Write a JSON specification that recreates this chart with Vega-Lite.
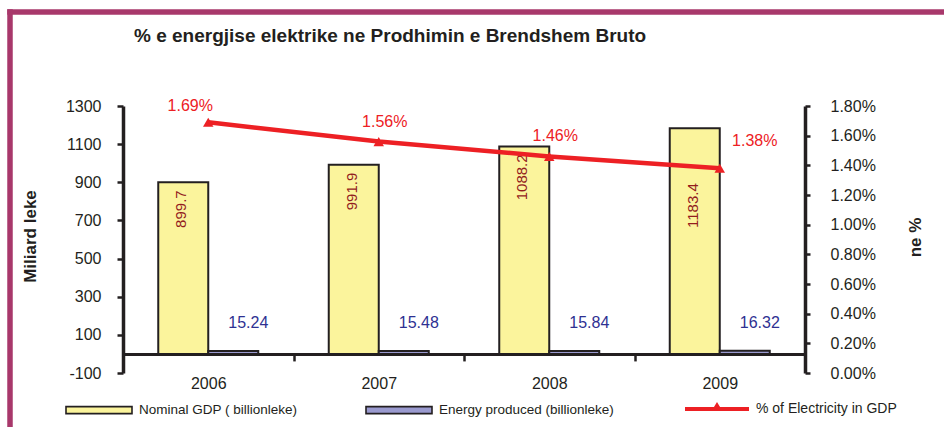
{
  "$schema": "https://vega.github.io/schema/vega-lite/v6.json",
  "width": 682,
  "height": 267,
  "autosize": "none",
  "padding": {"left": 123, "top": 106, "right": 139, "bottom": 54},
  "background": "white",
  "config": {
    "font": "Liberation Sans",
    "view": {"stroke": null},
    "axis": {"labelFont": "Liberation Sans", "titleFont": "Liberation Sans", "grid": false}
  },
  "title": {
    "text": "% e energjise elektrike  ne Prodhimin e Brendshem Bruto",
    "fontSize": 19,
    "fontWeight": "bold",
    "color": "#231F20",
    "anchor": "start",
    "frame": "group",
    "dx": 11,
    "offset": -38
  },
  "datasets": {
    "d": [
      {"year": "2006", "series": "Nominal  GDP ( billionleke)", "value": 899.7},
      {"year": "2007", "series": "Nominal  GDP ( billionleke)", "value": 991.9},
      {"year": "2008", "series": "Nominal  GDP ( billionleke)", "value": 1088.2},
      {"year": "2009", "series": "Nominal  GDP ( billionleke)", "value": 1183.4},
      {"year": "2006", "series": "Energy produced  (billionleke)", "value": 15.24},
      {"year": "2007", "series": "Energy produced  (billionleke)", "value": 15.48},
      {"year": "2008", "series": "Energy produced  (billionleke)", "value": 15.84},
      {"year": "2009", "series": "Energy produced  (billionleke)", "value": 16.32},
      {"year": "2006", "series": "% of Electricity in GDP", "value": 0.0169},
      {"year": "2007", "series": "% of Electricity in GDP", "value": 0.0156},
      {"year": "2008", "series": "% of Electricity in GDP", "value": 0.0146},
      {"year": "2009", "series": "% of Electricity in GDP", "value": 0.0138}
    ]
  },
  "data": {"name": "d"},
  "layer": [
    {
      "encoding": {
        "x": {
          "field": "year",
          "type": "ordinal",
          "scale": {"paddingInner": 0, "paddingOuter": 0},
          "axis": {
            "title": null,
            "labelAngle": 0,
            "labelFontSize": 16,
            "labelColor": "#231F20",
            "domainColor": "#231F20",
            "domainWidth": 3,
            "tickColor": "#231F20",
            "tickWidth": 2.5,
            "tickSize": 7,
            "tickBand": "extent",
            "labelPadding": 15,
            "offset": -19.07
          }
        }
      },
      "layer": [
        {
          "transform": [{"filter": "datum.series !== '% of Electricity in GDP'"}],
          "encoding": {
            "y": {
              "field": "value",
              "type": "quantitative",
              "scale": {"domain": [-100, 1300], "nice": false, "zero": false},
              "axis": {
                "title": "Miliard leke",
                "values": [-100, 100, 300, 500, 700, 900, 1100, 1300],
                "labelExpr": "'' + datum.value",
                "labelFontSize": 16,
                "labelColor": "#231F20",
                "domainColor": "#231F20",
                "domainWidth": 3.5,
                "tickColor": "#231F20",
                "tickWidth": 2.5,
                "tickSize": 6,
                "labelPadding": 16,
                "titleFontSize": 17,
                "titleFontWeight": "bold",
                "titleColor": "#231F20",
                "titleAngle": 270,
                "titleX": -93,
                "titleY": 130,
                "titleAlign": "center",
                "titleBaseline": "middle"
              }
            },
            "xOffset": {
              "field": "series",
              "type": "nominal",
              "scale": {"domain": ["Nominal  GDP ( billionleke)", "Energy produced  (billionleke)"], "paddingOuter": 0.705, "paddingInner": 0}
            }
          },
          "layer": [
            {
              "mark": {"type": "bar", "stroke": "#231F20", "strokeWidth": 2},
              "encoding": {
                "color": {
                  "field": "series",
                  "type": "nominal",
                  "scale": {
                    "domain": ["Nominal  GDP ( billionleke)", "Energy produced  (billionleke)"],
                    "range": ["#FBF49C", "#9A9ACF"]
                  },
                  "legend": {
                    "orient": "none",
                    "legendX": -58,
                    "legendY": 270,
                    "direction": "horizontal",
                    "title": null,
                    "symbolType": "M-1,-0.106H1V0.106H-1Z",
                    "symbolSize": 4356,
                    "symbolStrokeColor": "#231F20",
                    "symbolStrokeWidth": 1.6,
                    "symbolOpacity": 1,
                    "labelFontSize": 13.5,
                    "labelColor": "#231F20",
                    "labelFont": "Liberation Sans",
                    "labelOffset": 6,
                    "columnPadding": 60,
                    "labelLimit": 400
                  }
                }
              }
            },
            {
              "transform": [{"filter": "datum.series === 'Nominal  GDP ( billionleke)' && datum.year !== '2009'"}],
              "mark": {"type": "text", "angle": 270, "align": "right", "baseline": "middle", "dx": -8, "dy": -2, "fontSize": 15, "color": "#931C1E"},
              "encoding": {"text": {"field": "value", "type": "quantitative", "format": ".1f"}}
            },
            {
              "transform": [{"filter": "datum.series === 'Nominal  GDP ( billionleke)' && datum.year === '2009'"}],
              "mark": {"type": "text", "angle": 270, "align": "right", "baseline": "middle", "dx": -55, "dy": -2, "fontSize": 15, "color": "#931C1E"},
              "encoding": {"text": {"field": "value", "type": "quantitative", "format": ".1f"}}
            },
            {
              "transform": [{"filter": "datum.series === 'Energy produced  (billionleke)'"}],
              "mark": {"type": "text", "align": "center", "baseline": "middle", "dx": 15, "dy": -28, "fontSize": 16, "color": "#2E3192"},
              "encoding": {"text": {"field": "value", "type": "quantitative", "format": ".2f"}}
            }
          ]
        },
        {
          "transform": [{"filter": "datum.series === '% of Electricity in GDP'"}],
          "encoding": {
            "y": {
              "field": "value",
              "type": "quantitative",
              "scale": {"domain": [0, 0.018], "nice": false},
              "axis": {
                "orient": "right",
                "title": "ne %",
                "format": ".2%",
                "values": [0, 0.002, 0.004, 0.006, 0.008, 0.01, 0.012, 0.014, 0.016, 0.018],
                "labelFontSize": 16,
                "labelColor": "#231F20",
                "domainColor": "#231F20",
                "domainWidth": 3.5,
                "tickColor": "#231F20",
                "tickWidth": 2.5,
                "tickSize": 5,
                "labelPadding": 20,
                "titleFontSize": 17,
                "titleFontWeight": "bold",
                "titleColor": "#231F20",
                "titleAngle": 270,
                "titleX": 110,
                "titleY": 131,
                "titleAlign": "center",
                "titleBaseline": "middle"
              }
            }
          },
          "layer": [
            {"mark": {"type": "line", "color": "#ED2024", "strokeWidth": 4.5}},
            {
              "mark": {"type": "point", "shape": "triangle-up", "filled": true, "size": 110, "opacity": 1},
              "encoding": {
                "fill": {
                  "field": "series",
                  "type": "nominal",
                  "scale": {"domain": ["% of Electricity in GDP"], "range": ["#ED2024"]},
                  "legend": {
                    "orient": "none",
                    "legendX": 562,
                    "legendY": 271,
                    "direction": "horizontal",
                    "title": null,
                    "symbolType": "M-1,-0.0625H1V0.0625H-1Z M-0.17,0.0625L0,-0.22L0.17,0.0625Z",
                    "symbolSize": 4096,
                    "symbolFillColor": "#ED2024",
                    "symbolStrokeWidth": 0,
                    "symbolOpacity": 1,
                    "labelFontSize": 14,
                    "labelColor": "#231F20",
                    "labelFont": "Liberation Sans",
                    "labelOffset": 7,
                    "labelLimit": 400
                  }
                }
              }
            },
            {
              "transform": [{"filter": "datum.year === '2006'"}],
              "mark": {"type": "text", "align": "center", "baseline": "middle", "dx": -18, "dy": -16, "fontSize": 16, "color": "#ED2024"},
              "encoding": {"text": {"field": "value", "type": "quantitative", "format": ".2%"}}
            },
            {
              "transform": [{"filter": "datum.year === '2007' || datum.year === '2008'"}],
              "mark": {"type": "text", "align": "center", "baseline": "middle", "dx": 6, "dy": -20, "fontSize": 16, "color": "#ED2024"},
              "encoding": {"text": {"field": "value", "type": "quantitative", "format": ".2%"}}
            },
            {
              "transform": [{"filter": "datum.year === '2009'"}],
              "mark": {"type": "text", "align": "center", "baseline": "middle", "dx": 35, "dy": -27, "fontSize": 16, "color": "#ED2024"},
              "encoding": {"text": {"field": "value", "type": "quantitative", "format": ".2%"}}
            }
          ]
        }
      ],
      "resolve": {"scale": {"y": "independent"}}
    },
    {
      "data": {"values": [{}]},
      "encoding": {
        "x": {"datum": 0, "type": "quantitative", "scale": {"domain": [0.1202, 0.8457], "nice": false, "zero": false}, "axis": null},
        "y": {"datum": 1, "type": "quantitative", "scale": {"domain": [0.1486, 0.7783], "nice": false, "zero": false}, "axis": null}
      },
      "layer": [
        {"mark": {"type": "rule", "color": "#A8386B", "strokeWidth": 5.5, "strokeCap": "square"}, "encoding": {"x2": {"datum": 1}}},
        {"mark": {"type": "rule", "color": "#A8386B", "strokeWidth": 5.5, "strokeCap": "square"}, "encoding": {"y2": {"datum": 0}}}
      ]
    }
  ],
  "resolve": {"scale": {"x": "independent", "y": "independent"}}
}
